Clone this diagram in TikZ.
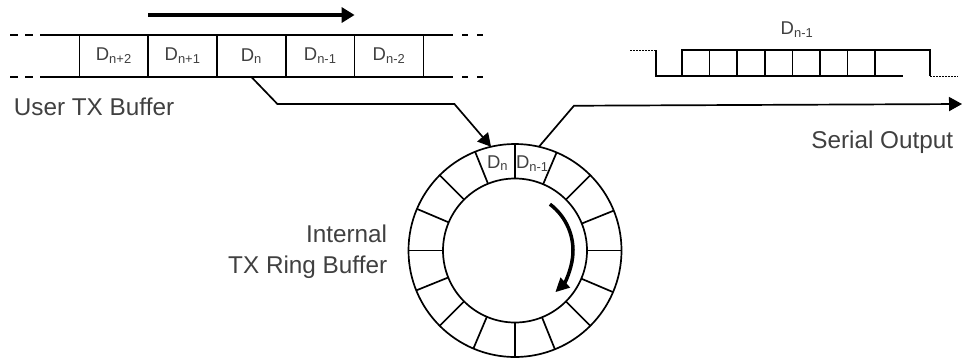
\documentclass[tikz,border=0pt]{standalone}
\usepackage{fontspec}
\setmainfont{Liberation Sans}
\usepackage{tikz}
\usetikzlibrary{arrows.meta,positioning}

\begin{document}
\begin{tikzpicture}[
  x=1pt, y=-1pt, line width=1.7pt,
  cell/.style={draw, minimum width=68.8pt, minimum height=42pt, inner sep=0pt, outer sep=0pt, text=black!75, font=\fontsize{18.5}{22}\selectfont},
  caption/.style={text=black!75, inner sep=0pt, font=\fontsize{24.3}{31}\selectfont},
  disc/.style={draw, circle, inner sep=0pt, outer sep=0pt},
  link/.style={-{Triangle[length=13pt,width=14pt]}},
  dashline/.style={dash pattern=on 8pt off 7pt}
]
\useasboundingbox (0,0) rectangle (963,360);
% user buffer
\node[cell] (c1) at (113.8,56) {D\textsubscript{n+2}};
\node[cell, right=0pt of c1] (c2) {D\textsubscript{n+1}};
\node[cell, right=0pt of c2] (c3) {D\textsubscript{n}};
\node[cell, right=0pt of c3] (c4) {D\textsubscript{n-1}};
\node[cell, right=0pt of c4] (c5) {D\textsubscript{n-2}};
\draw ([xshift=-36pt]c1.north west) -- ([xshift=24pt]c5.north east);
\draw ([xshift=-36pt]c1.south west) -- ([xshift=24pt]c5.south east);
\draw[dashline] ([xshift=-69pt]c1.north west) -- ([xshift=-36pt]c1.north west);
\draw[dashline] ([xshift=-69pt]c1.south west) -- ([xshift=-36pt]c1.south west);
\draw[dash pattern=on 6pt off 9pt] ([xshift=24pt]c5.north east) -- ++(37,0);
\draw[dash pattern=on 6pt off 9pt] ([xshift=24pt]c5.south east) -- ++(37,0);
\draw[line width=4.5pt, -{Triangle[length=13pt,width=15pt]}] ([yshift=20pt]c2.north west) -- ([yshift=20pt]c4.north east);
\node[caption, anchor=base west] (user) at (13,115) {User TX Buffer};

% ring buffer
\node[disc, minimum size=213pt] (ring) at (515,250.5) {};
\node[disc, minimum size=144pt] (hub) at (ring.center) {};
\foreach \a in {0,22.5,...,337.5}
  \draw (hub.\a) -- (ring.\a);
\node[cell, draw=none, minimum width=0pt, minimum height=0pt] (rn) at ([shift={(101.25:89pt)}]ring.center) {D\textsubscript{n}};
\node[cell, draw=none, minimum width=0pt, minimum height=0pt] (rn1) at ([shift={(78.75:89pt)}]ring.center) {D\textsubscript{n-1}};
\draw[line width=3.5pt, -{Triangle[length=14pt,width=13pt]}] ([shift={(53:58pt)}]ring.center) arc[start angle=53, end angle=-46, radius=58pt];
\node[caption, align=right, anchor=base east] (ringlbl) at (388,273) {Internal\\TX Ring Buffer};

% connectors
\draw[link] (c3.south) -- ++(26,27) -- ++(177,0) -- (ring.103.4);
\coordinate (out) at (962,104);
\draw[link] (ring.77.7) -- ++(35,-41) -- (out);
\node[caption, anchor=base east] (serial) at (954,148) {Serial Output};

% serial waveform
\draw (656,50) -- (656,76) -- (903,76);
\draw (682,76) -- (682,50) -- (930,50) -- (930,76);
\foreach \i in {1,...,7}
  \draw ({682+27.6*\i},50) -- ({682+27.6*\i},76);
\draw[line width=1pt, dash pattern=on 1.5pt off 1.5pt] (630,50) -- (656,50);
\draw[line width=1pt, dash pattern=on 1.5pt off 1.5pt] (930,76) -- (958,76);
\node[cell, draw=none, minimum width=0pt, minimum height=0pt] (bits) at (797,30) {D\textsubscript{n-1}};
\end{tikzpicture}
\end{document}
